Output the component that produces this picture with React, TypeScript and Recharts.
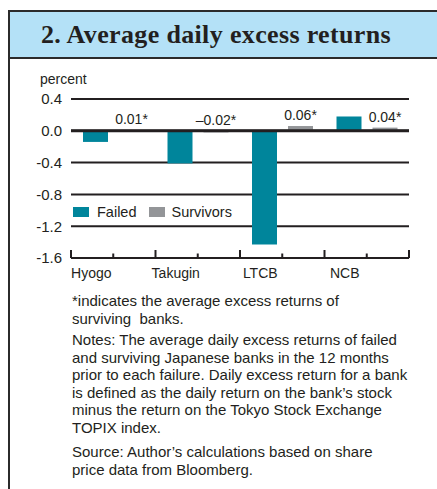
import React from 'react';
import { BarChart, Bar, XAxis, YAxis, CartesianGrid, ReferenceLine, LabelList } from 'recharts';

const banks = ['Hyogo', 'Takugin', 'LTCB', 'NCB'];
const failed = [-0.14, -0.41, -1.43, 0.18];
const survivors = [0.01, -0.02, 0.06, 0.04];
const yTicks = [0.4, 0, -0.4, -0.8, -1.2, -1.6];

const data = banks.map((name, i) => ({ name, failed: failed[i], survivors: survivors[i] }));

const TEAL = '#00859b';
const GREY = '#939598';
const INK = '#231f20';
const FONT = '"Liberation Sans", Arial, Helvetica, sans-serif';

const BAND = 338 / 4;

const BankTick = (props: any) => {
  const { x, y, payload, index } = props;
  return (
    <g>
      <line x1={x - BAND / 2} x2={x - BAND / 2} y1={y} y2={y - 8} stroke={INK} strokeWidth={2} />
      <line x1={x} x2={x} y1={y} y2={y - 4.5} stroke={INK} strokeWidth={2} />
      {index === banks.length - 1 && (
        <line x1={x + BAND / 2} x2={x + BAND / 2} y1={y} y2={y - 8} stroke={INK} strokeWidth={2} />
      )}
      <text x={x - 22} y={y + 20} textAnchor="middle" fontSize={14} fill={INK} fontFamily={FONT}>
        {payload.value}
      </text>
    </g>
  );
};

const survivorLabel = (props: any) => {
  const { x, y, width, height, value } = props;
  const top = Math.min(y, y + height);
  const txt = (value < 0 ? '\u2013' : '') + Math.abs(value).toFixed(2) + '*';
  return (
    <text x={x + width / 2} y={top - 6} textAnchor="middle" fontSize={14} fill={INK} fontFamily={FONT}>
      {txt}
    </text>
  );
};

const noteStyle: React.CSSProperties = { margin: 0, lineHeight: '17.5px' };

export default function App() {
  return (
    <div style={{ position: 'absolute', left: 0, top: 0, width: 437, height: 489, background: '#fff', overflow: 'hidden' }}>
      <div style={{ position: 'absolute', left: 8, top: 10, width: 2, height: 479, background: '#2b2b2b' }} />
      <div
        style={{
          position: 'absolute', left: 8, top: 10, width: 440, height: 45,
          background: '#b4e1f7', borderTop: '2px solid #2b2b2b', borderBottom: '2px solid #2b2b2b',
          borderLeft: '2px solid #2b2b2b', boxSizing: 'content-box',
        }}
      >
        <div style={{ position: 'absolute', left: 31, top: 8, fontFamily: '"Liberation Serif", "Times New Roman", serif', fontWeight: 'bold', fontSize: 26, letterSpacing: 0.35, color: INK, whiteSpace: 'nowrap' }}>
          2. Average daily excess returns
        </div>
      </div>

      <div style={{ position: 'absolute', left: 40, top: 71, fontFamily: FONT, fontSize: 14, color: INK }}>percent</div>

      <div style={{ position: 'absolute', left: 0, top: 0 }}>
        <BarChart
          width={437}
          height={300}
          data={data}
          margin={{ top: 99, right: 28, left: 21, bottom: 12 }}
          barCategoryGap={12}
          barGap={11}
        >
          <CartesianGrid vertical={false} stroke={INK} strokeWidth={2} strokeOpacity={1} />
          <YAxis
            domain={[-1.6, 0.4]}
            ticks={yTicks}
            width={50}
            axisLine={false}
            tickLine={false}
            tickSize={0}
            tickMargin={9}
            interval={0}
            tickFormatter={(v: number) => v.toFixed(1)}
            tick={{ fontSize: 15, fill: INK, fontFamily: FONT }}
          />
          <XAxis
            dataKey="name"
            height={30}
            tickSize={0}
            tickMargin={0}
            tickLine={false}
            axisLine={{ stroke: INK, strokeWidth: 2 }}
            tick={<BankTick />}
            interval={0}
          />
          <Bar dataKey="failed" fill={TEAL} isAnimationActive={false} />
          <Bar dataKey="survivors" fill={GREY} isAnimationActive={false}>
            <LabelList dataKey="survivors" content={survivorLabel} />
          </Bar>
          <ReferenceLine y={0} stroke={INK} strokeWidth={3} />
        </BarChart>
      </div>

      <div style={{ position: 'absolute', left: 73, top: 204, display: 'flex', alignItems: 'center', fontFamily: FONT, fontSize: 14.5, color: INK, background: '#fff', paddingRight: 4 }}>
        <span style={{ width: 16, height: 10, background: TEAL, display: 'inline-block', marginRight: 8 }} />
        <span style={{ marginRight: 12 }}>Failed</span>
        <span style={{ width: 16, height: 10, background: GREY, display: 'inline-block', marginRight: 7 }} />
        <span>Survivors</span>
      </div>

      <div style={{ position: 'absolute', left: 72, top: 292, width: 365, fontFamily: FONT, fontSize: 15, color: INK, whiteSpace: 'nowrap' }}>
        <p style={noteStyle}>*indicates the average excess returns of<br />surviving&nbsp; banks.</p>
        <p style={{ ...noteStyle, marginTop: 4 }}>
          Notes: The average daily excess returns of failed<br />
          and surviving Japanese banks in the 12 months<br />
          prior to each failure. Daily excess return for a bank<br />
          is defined as the daily return on the bank’s stock<br />
          minus the return on the Tokyo Stock Exchange<br />
          TOPIX index.
        </p>
        <p style={{ ...noteStyle, marginTop: 7 }}>
          Source: Author’s calculations based on share<br />
          price data from Bloomberg.
        </p>
      </div>
    </div>
  );
}
